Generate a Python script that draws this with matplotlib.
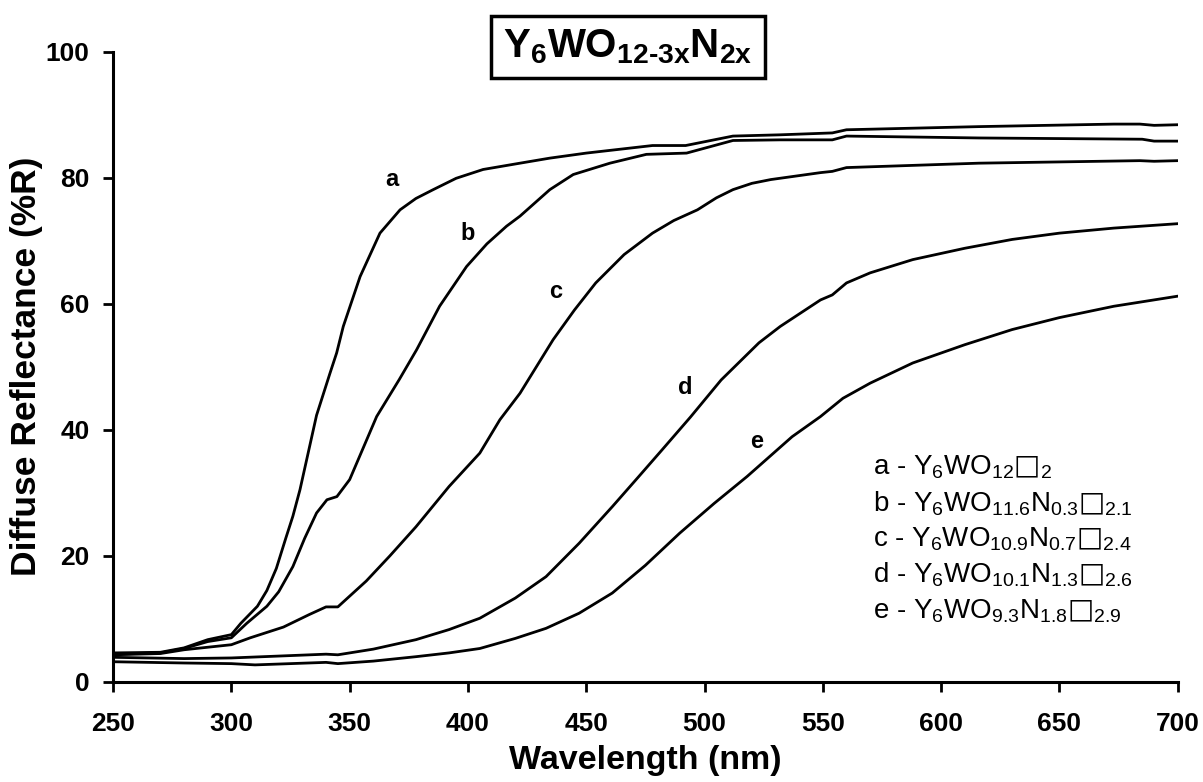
import matplotlib
matplotlib.use('Agg')
import matplotlib.pyplot as plt

plt.rcParams['font.family'] = ['Liberation Sans', 'DejaVu Sans']
plt.rcParams['mathtext.fontset'] = 'custom'
plt.rcParams['mathtext.rm'] = 'Liberation Sans:bold'
plt.rcParams['mathtext.bf'] = 'DejaVu Sans:bold'
plt.rcParams['mathtext.default'] = 'regular'

# wavelength (nm) / diffuse reflectance (%R)
wl_a = [250, 270, 280, 290, 300, 304, 311, 315, 319, 323, 326, 329, 336, 341.7, 344.5, 347.3,
        354.4, 362.8, 371.3, 378, 385.3, 395, 406.4, 422, 434.6, 450, 478, 492, 512, 532, 554,
        560, 616, 673, 684, 690, 700]
r_a = [4.6, 4.7, 5.4, 6.7, 7.5, 9.3, 12.0, 14.5, 18.0, 22.8, 26.3, 30.5, 42.3, 49.0, 52.2, 56.4,
       64.3, 71.2, 74.9, 76.7, 78.1, 79.9, 81.3, 82.3, 83.1, 83.9, 85.1, 85.1, 86.6, 86.8, 87.1,
       87.6, 88.1, 88.5, 88.5, 88.3, 88.4]

wl_b = [250, 270, 280, 290, 300, 306.5, 315, 320, 326, 331, 336, 340.4, 344.6, 350, 361.4, 371,
        378.3, 388, 399.4, 408, 416.3, 422, 434.6, 444.5, 460, 475.4, 492.4, 512, 532, 554, 560,
        616, 685, 690, 700]
r_b = [4.4, 4.6, 5.3, 6.4, 7.0, 9.3, 12.0, 14.3, 18.3, 22.8, 26.8, 28.9, 29.4, 32.1, 42.1, 48.0,
       52.7, 59.6, 65.9, 69.5, 72.3, 73.9, 78.1, 80.5, 82.3, 83.7, 83.9, 85.9, 86.0, 86.0, 86.6,
       86.3, 86.1, 85.8, 85.8]

wl_c = [250, 270, 280, 290, 300, 308, 322, 333, 340, 345, 357, 367, 378, 392, 405, 413.5, 422,
        436, 445, 454, 466, 478, 487, 497, 505, 512, 520, 528, 549, 554, 560, 616, 684, 690, 700]
r_c = [4.3, 4.5, 5.1, 5.5, 5.9, 7.0, 8.7, 10.7, 11.9, 11.9, 16.0, 20.0, 24.6, 31.0, 36.3, 41.6,
       45.8, 54.3, 59.0, 63.3, 67.8, 71.2, 73.2, 74.9, 76.8, 78.1, 79.1, 79.7, 80.8, 81.0, 81.6, 82.3,
       82.7, 82.6, 82.7]

wl_d = [250, 280, 300, 340, 345, 360, 378, 392, 405, 420, 433, 447, 461, 472, 482, 494, 507,
        523, 532, 549, 554, 560, 570, 588, 610, 630, 650, 673, 700]
r_d = [3.9, 3.7, 3.8, 4.4, 4.3, 5.2, 6.7, 8.3, 10.1, 13.3, 16.7, 22.0, 27.8, 32.5, 36.8, 42.0, 47.9,
       53.8, 56.4, 60.6, 61.4, 63.3, 64.9, 67.0, 68.8, 70.2, 71.2, 72.0, 72.7]

wl_e = [250, 280, 300, 310, 340, 345, 360, 378, 392, 405, 420, 433, 447, 461, 475, 489.5, 504,
        518, 537, 549, 558.5, 570, 588, 610, 630, 650, 673, 700]
r_e = [3.2, 3.0, 2.9, 2.7, 3.1, 2.9, 3.3, 4.0, 4.6, 5.3, 6.9, 8.5, 10.9, 14.1, 18.5, 23.6, 28.3,
       32.6, 38.9, 42.1, 45.0, 47.4, 50.6, 53.5, 55.9, 57.8, 59.6, 61.2]

curve_names = ['a', 'b', 'c', 'd', 'e']
label_x = [368, 400, 437, 492, 522]
label_y = [79.7, 71.1, 61.9, 46.7, 38.1]

legend_lines = [
    r'a - Y$_6$WO$_{12}$$\mathbf{□}_2$',
    r'b - Y$_6$WO$_{11.6}$N$_{0.3}$$\mathbf{□}_{2.1}$',
    r'c - Y$_6$WO$_{10.9}$N$_{0.7}$$\mathbf{□}_{2.4}$',
    r'd - Y$_6$WO$_{10.1}$N$_{1.3}$$\mathbf{□}_{2.6}$',
    r'e - Y$_6$WO$_{9.3}$N$_{1.8}$$\mathbf{□}_{2.9}$',
]

fig = plt.figure(figsize=(12.03, 7.82), dpi=100)
ax = fig.add_axes([0.094, 0.128, 0.885, 0.806])

for wl, r in [(wl_a, r_a), (wl_b, r_b), (wl_c, r_c), (wl_d, r_d), (wl_e, r_e)]:
    ax.plot(wl, r, color='black', lw=2.0, solid_joinstyle='round')

for name, x, y in zip(curve_names, label_x, label_y):
    ax.text(x, y, name, fontsize=17, fontweight='bold', ha='center', va='center')

for i, line in enumerate(legend_lines):
    ax.text(0.714, 0.34 - i * 0.0568, line, transform=ax.transAxes, fontsize=20,
            ha='left', va='center')

ax.set_xlim(250, 700)
ax.set_ylim(0, 100)
ax.set_xticks(range(250, 701, 50))
ax.set_yticks(range(0, 101, 20))
ax.spines['top'].set_visible(False)
ax.spines['right'].set_visible(False)
ax.spines['left'].set_linewidth(2.2)
ax.spines['bottom'].set_linewidth(2.2)
ax.tick_params(direction='out', length=7, width=2, labelsize=19)
ax.tick_params(axis='x', pad=15)
ax.tick_params(axis='y', pad=10)
for lab in ax.get_xticklabels() + ax.get_yticklabels():
    lab.set_fontweight('bold')

ax.set_xlabel('Wavelength (nm)', fontsize=24.5, fontweight='bold', labelpad=6)
ax.set_ylabel('Diffuse Reflectance (%R)', fontsize=25.5, fontweight='bold', labelpad=2)

fig.text(0.522, 0.94, r'Y$_6$WO$_{12\text{-}3x}$N$_{2x}$', fontsize=29, fontweight='bold',
         ha='center', va='center',
         bbox=dict(boxstyle='square,pad=0.3', fc='white', ec='black', lw=2.5))

fig.savefig('out.png', dpi=100)
